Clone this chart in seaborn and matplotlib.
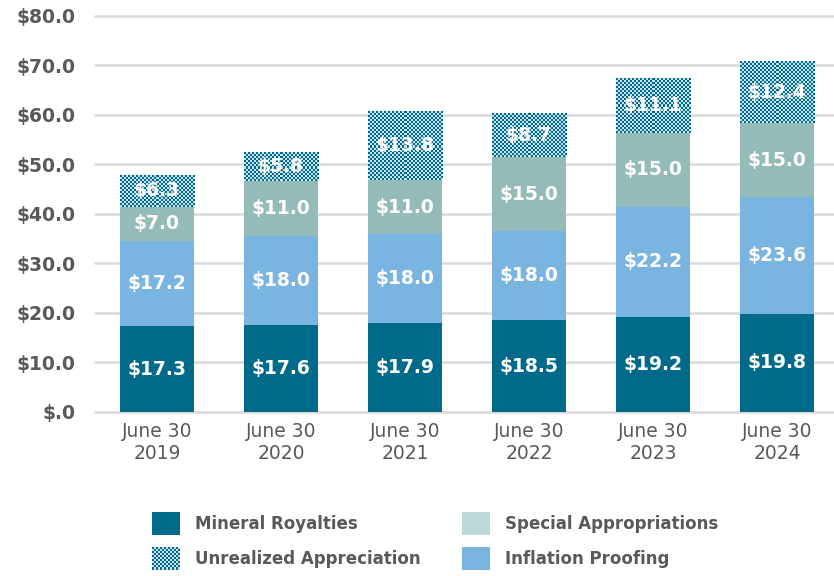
import matplotlib
matplotlib.use("Agg")
import matplotlib.pyplot as plt
import seaborn as sns
import numpy as np
import pandas as pd
from matplotlib.patches import Patch, Rectangle
from matplotlib.ticker import FuncFormatter
from matplotlib.legend_handler import HandlerBase
from matplotlib.colors import ListedColormap

# ---- data ----
categories = ["June 30\n2019", "June 30\n2020", "June 30\n2021",
              "June 30\n2022", "June 30\n2023", "June 30\n2024"]
mineral = [17.3, 17.6, 17.9, 18.5, 19.2, 19.8]
inflation = [17.2, 18.0, 18.0, 18.0, 22.2, 23.6]
special = [7.0, 11.0, 11.0, 15.0, 15.0, 15.0]
unrealized = [6.3, 5.8, 13.8, 8.7, 11.1, 12.4]
series_names = ["Mineral Royalties", "Inflation Proofing",
                "Special Appropriations", "Unrealized Appreciation"]
y_ticks = [0, 10, 20, 30, 40, 50, 60, 70, 80]

# ---- style ----
C_MIN = "#006A8A"
C_INF = "#7AB4E0"
C_SPE = "#93BCB8"
C_SPE_LEG = "#BCD8D8"
C_LIGHT = "#C8E3EC"
GRAY = "#595959"

sns.set_theme(style="white")
plt.rcParams["font.family"] = ["DejaVu Sans"]

fig = plt.figure(figsize=(8.34, 5.76), dpi=100)
ax = fig.add_axes([95 / 834, 1 - 412 / 576, 739 / 834, 401 / 576])
ax.set_ylim(0, 81)

series = [mineral, inflation, special, unrealized]
cum = np.cumsum(np.array(series), axis=0)
df = pd.DataFrame({"cat": categories})
for name, c in zip(series_names, cum):
    df[name] = c

colors = [C_MIN, C_INF, C_SPE, C_MIN]
# draw from top (largest cumulative) down
top_container = None
for k in [3, 2, 1, 0]:
    sns.barplot(data=df, x="cat", y=series_names[k], color=colors[k],
                saturation=1, width=0.6, linewidth=0, ax=ax, errorbar=None)
    if k == 3:
        top_container = ax.containers[-1]

ax.set_ylim(0, 81)
ax.set_xlim(-0.5, 5.46)

# checkerboard texture on the unrealized segments
checker_cmap = ListedColormap([C_MIN, C_LIGHT])
fig.canvas.draw()
for i, p in enumerate(top_container):
    x0, w = p.get_x(), p.get_width()
    y0, y1 = cum[2][i], cum[3][i]
    (px0, py0), (px1, py1) = ax.transData.transform([(x0, y0), (x0 + w, y1)])
    nx = max(1, int(round(abs(px1 - px0) / 2)))
    ny = max(1, int(round(abs(py1 - py0) / 2)))
    gx, gy = np.meshgrid(np.arange(nx), np.arange(ny))
    board = ((gx + gy) % 2).astype(float)
    ax.imshow(board, extent=(x0, x0 + w, y0, y1), cmap=checker_cmap,
              interpolation="nearest", aspect="auto", zorder=1.5, vmin=0, vmax=1)
ax.set_ylim(0, 81)
ax.set_xlim(-0.5, 5.46)

# value labels
for k, vals in enumerate(series):
    bottoms = cum[k] - np.array(vals)
    for i, v in enumerate(vals):
        ax.text(i, bottoms[i] + v / 2, f"${v:.1f}", ha="center", va="center",
                color="white", fontsize=13.5, fontweight="bold", zorder=4)

ax.set_yticks(y_ticks)
ax.yaxis.set_major_formatter(FuncFormatter(lambda v, p: "$.0" if v == 0 else f"${v:.1f}"))
ax.yaxis.grid(True, color="#D9D9D9", linewidth=1.8)
ax.set_axisbelow(True)
for gl in ax.get_ygridlines():
    gl.set_clip_on(False)
for s in ax.spines.values():
    s.set_visible(False)
ax.tick_params(axis="both", length=0)
ax.tick_params(axis="y", pad=14, labelsize=13.5, labelcolor=GRAY)
ax.tick_params(axis="x", pad=7, labelsize=13.5, labelcolor=GRAY)
for t in ax.get_yticklabels():
    t.set_fontweight("bold")
for t in ax.get_xticklabels():
    t.set_linespacing(1.2)
ax.set_xlabel("")
ax.set_ylabel("")


class CheckerHandler(HandlerBase):
    def create_artists(self, legend, orig_handle, xdescent, ydescent,
                       width, height, fontsize, trans):
        arts = [Rectangle((-xdescent, -ydescent), width, height,
                          facecolor=C_LIGHT, linewidth=0, transform=trans)]
        cell = 1.44
        nx = int(round(width / cell))
        ny = int(round(height / cell))
        cw, ch = width / nx, height / ny
        for a in range(nx):
            for b in range(ny):
                if (a + b) % 2 == 0:
                    arts.append(Rectangle((-xdescent + a * cw, -ydescent + b * ch), cw, ch,
                                          facecolor=C_MIN, linewidth=0,
                                          antialiased=False, transform=trans))
        return arts


checker_handle = Patch(facecolor=C_MIN)
handles = [
    Patch(facecolor=C_MIN, linewidth=0),
    checker_handle,
    Patch(facecolor=C_SPE_LEG, linewidth=0),
    Patch(facecolor=C_INF, linewidth=0),
]
labels = ["Mineral Royalties", "Unrealized Appreciation",
          "Special Appropriations", "Inflation Proofing"]
leg = fig.legend(handles, labels, ncol=2, loc="center", bbox_to_anchor=(0.522, 0.0608),
                 frameon=False, handlelength=1.68, handleheight=1.68,
                 handletextpad=0.9, columnspacing=2.5, labelspacing=0.75,
                 prop={"size": 12, "weight": "bold"},
                 handler_map={checker_handle: CheckerHandler()})
for t in leg.get_texts():
    t.set_color(GRAY)

fig.savefig("out.png", dpi=100)
